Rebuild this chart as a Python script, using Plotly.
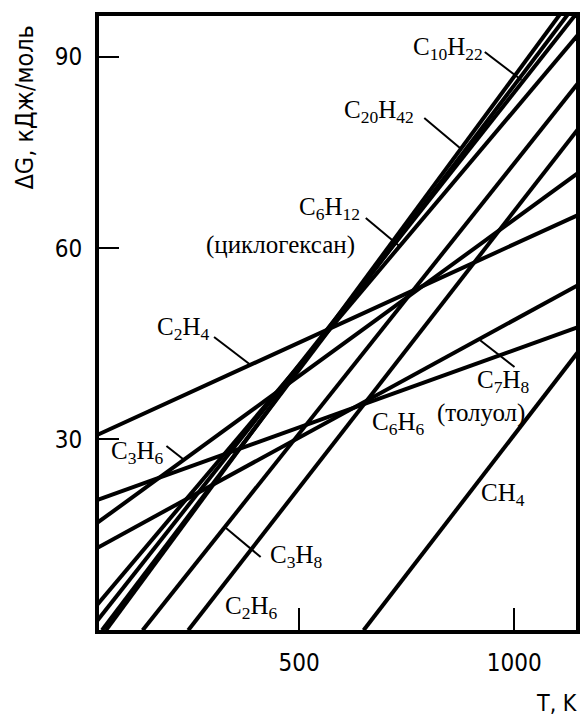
import plotly.graph_objects as go

# ---- data: straight lines dG(T), two end points each ----
names   = ["C20H42", "C10H22", "alkane", "C6H12", "C2H4", "C3H6", "C6H6", "C7H8", "C3H8", "C2H6", "CH4"]
T_start = [51.4, 42.2, 30.6, 30.6, 30.6, 30.6, 30.6, 30.6, 136.6, 242.6, 650.0]
G_start = [0.0, 0.0, 1.46, 3.97, 30.66, 16.84, 20.46, 12.92, 0.0, 0.0, 0.0]
T_end   = [1106.7, 1125.1, 1143.5, 1148.2, 1148.2, 1148.2, 1148.2, 1148.2, 1148.2, 1148.2, 1148.2]
G_end   = [96.75, 96.75, 96.75, 93.5, 65.2, 71.8, 47.6, 54.2, 85.9, 78.7, 43.7]

x_ticks = [500, 1000]
y_ticks = [30, 60, 90]

# ---- layout geometry ----
W, H = 583, 719
L, R, T, B = 99, 580, 16, 630
xr = [35.3, 1143.5]
yr = [0.05, 96.45]

def dx(px):
    return xr[0] + (px - L) / (R - L) * (xr[1] - xr[0])

def dy(py):
    return yr[0] + (B - py) / (B - T) * (yr[1] - yr[0])

fig = go.Figure()
for n, t0, g0, t1, g1 in zip(names, T_start, G_start, T_end, G_end):
    fig.add_trace(go.Scatter(x=[t0, t1], y=[g0, g1], mode="lines", name=n,
                             line=dict(color="black", width=4), showlegend=False,
                             hoverinfo="skip"))

serif = "Liberation Serif, Times New Roman, serif"
sans = "DejaVu Sans Condensed, DejaVu Sans, sans-serif"

labels = [
    ("C<sub>10</sub>H<sub>22</sub>", 451, 48),
    ("C<sub>20</sub>H<sub>42</sub>", 381, 111),
    ("C<sub>6</sub>H<sub>12</sub>", 331, 208),
    ("(циклогексан)", 282, 245),
    ("C<sub>2</sub>H<sub>4</sub>", 184, 328),
    ("C<sub>3</sub>H<sub>6</sub>", 138, 452),
    ("C<sub>7</sub>H<sub>8</sub>", 507, 381),
    ("(толуол)", 484, 413),
    ("C<sub>6</sub>H<sub>6</sub>", 401, 423),
    ("CH<sub>4</sub>", 506, 494),
    ("C<sub>3</sub>H<sub>8</sub>", 298, 556),
    ("C<sub>2</sub>H<sub>6</sub>", 253, 607),
]
anns = []
for txt, px, py in labels:
    anns.append(dict(text=txt, x=dx(px), y=dy(py), xref="x", yref="y", showarrow=False,
                     font=dict(family=serif, size=25, color="black"),
                     xanchor="center", yanchor="middle"))

extra = [
    ("ΔG, кДж/моль", 24, 108, -90, 25),
    ("T, K", 560, 703, 0, 23),
]
for txt, px, py, ang, fs in extra:
    anns.append(dict(text=txt, x=(px - L) / (R - L), y=((H - py) - (H - B)) / (B - T),
                     xref="paper", yref="paper", showarrow=False, textangle=ang,
                     font=dict(family=sans, size=fs, color="black"),
                     xanchor="center", yanchor="middle"))

pointers = [
    (488, 52, 525, 80),
    (427, 118, 463, 148),
    (368, 218, 403, 247),
    (215, 337, 252, 365),
    (167, 446, 185, 460),
    (483, 340, 518, 367),
    (262, 557, 227, 528),
]
shapes = []
for x0, y0, x1, y1 in pointers:
    shapes.append(dict(type="line", xref="x", yref="y", x0=dx(x0), y0=dy(y0), x1=dx(x1), y1=dy(y1),
                       line=dict(color="black", width=2)))

fig.update_layout(
    width=W, height=H,
    margin=dict(l=L, r=W - R, t=T, b=H - B),
    plot_bgcolor="white", paper_bgcolor="white",
    annotations=anns, shapes=shapes,
    xaxis=dict(range=xr, tickvals=x_ticks, ticks="inside", ticklen=22, tickwidth=2,
               tickcolor="black", showline=True, linewidth=4, linecolor="black", mirror=True,
               showgrid=False, zeroline=False, tickfont=dict(family=sans, size=24, color="black"),
               ticklabelstandoff=8),
    yaxis=dict(range=yr, tickvals=y_ticks, ticks="inside", ticklen=20, tickwidth=2,
               tickcolor="black", showline=True, linewidth=4, linecolor="black", mirror=True,
               showgrid=False, zeroline=False, tickfont=dict(family=sans, size=24, color="black"),
               ticklabelstandoff=8),
)

fig.write_html("out.html")
